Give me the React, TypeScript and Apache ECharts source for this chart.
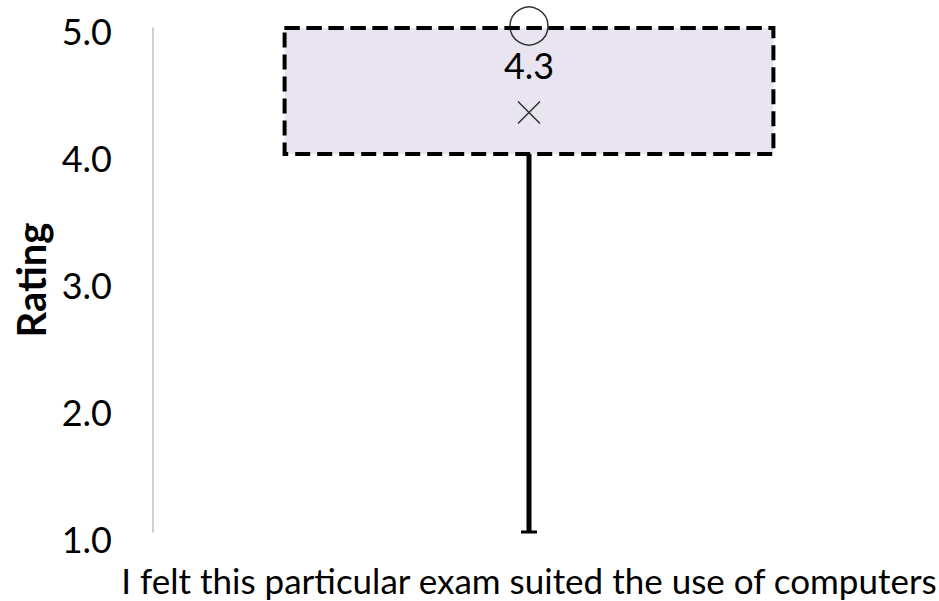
import React, { useEffect, useRef } from "react";
import * as echarts from "echarts";

const categories = ["I felt this particular exam suited the use of computers"];
const minValues = [1.0];
const q1Values = [4.0];
const medianValues = [5.0];
const q3Values = [5.0];
const maxValues = [5.0];
const meanValues = [4.33];
const pointValues = [5.0];
const yTicks = [1, 2, 3, 4, 5];

const FONT = "Lato";

export default function App() {
  const ref = useRef<HTMLDivElement>(null);
  useEffect(() => {
    if (!ref.current) return;
    const chart = echarts.init(ref.current, null, { renderer: "svg" });
    const boxData = categories.map((_, i) => [
      i,
      minValues[i],
      q1Values[i],
      medianValues[i],
      q3Values[i],
      maxValues[i],
    ]);
    const tickRich: Record<string, any> = {};
    yTicks.forEach((t) => {
      tickRich["t" + t] = {
        fontFamily: FONT,
        fontSize: 36,
        color: "#000",
        padding: [Math.round(5 + (5 - t) * 2), 0, 0, 0],
      };
    });
    chart.setOption({
      animation: false,
      backgroundColor: "#ffffff",
      grid: {
        left: 153,
        right: 34,
        top: 28,
        bottom: 69,
        containLabel: false,
        outerBoundsMode: "none",
      },
      xAxis: {
        type: "category",
        data: categories,
        axisLine: { show: false },
        axisTick: { show: false },
        axisLabel: {
          fontFamily: FONT,
          fontSize: 35,
          color: "#000",
          margin: 30,
        },
      },
      yAxis: {
        type: "value",
        min: yTicks[0],
        max: yTicks[yTicks.length - 1],
        interval: 1,
        name: "Rating",
        nameLocation: "middle",
        nameRotate: 90,
        nameGap: 99,
        nameTextStyle: {
          fontFamily: FONT,
          fontSize: 40,
          fontWeight: "bold",
          color: "#000",
        },
        axisLine: { show: true, lineStyle: { color: "#BFBFBF", width: 1.5 } },
        axisTick: { show: false },
        splitLine: { show: false },
        axisLabel: {
          fontFamily: FONT,
          fontSize: 36,
          color: "#000",
          margin: 41,
          formatter: (v: number) => "{t" + Math.round(v) + "|" + v.toFixed(1) + "}",
          rich: tickRich,
        },
      },
      series: [
        {
          type: "custom",
          data: boxData,
          encode: { x: 0, y: [1, 2, 3, 4, 5] },
          renderItem: (params: any, api: any) => {
            const x = api.value(0);
            const pLow = api.coord([x, api.value(1)]);
            const pQ1 = api.coord([x, api.value(2)]);
            const pMed = api.coord([x, api.value(3)]);
            const pQ3 = api.coord([x, api.value(4)]);
            const pHigh = api.coord([x, api.value(5)]);
            const bandW = api.size([1, 0])[0];
            const boxW = bandW * 0.65;
            const cx = pQ1[0];
            return {
              type: "group",
              children: [
                {
                  type: "line",
                  shape: { x1: cx, y1: pQ1[1], x2: cx, y2: pLow[1] },
                  style: { stroke: "#000", lineWidth: 5 },
                },
                {
                  type: "line",
                  shape: { x1: cx - 8, y1: pLow[1], x2: cx + 8, y2: pLow[1] },
                  style: { stroke: "#000", lineWidth: 3 },
                },
                {
                  type: "line",
                  shape: { x1: cx, y1: pQ3[1], x2: cx, y2: pHigh[1] },
                  style: { stroke: "#000", lineWidth: 5 },
                },
                {
                  type: "rect",
                  shape: {
                    x: cx - boxW / 2,
                    y: pQ3[1],
                    width: boxW,
                    height: pQ1[1] - pQ3[1],
                  },
                  style: {
                    fill: "#E9E5F0",
                    stroke: "#000",
                    lineWidth: 4,
                    lineDash: [15, 7],
                  },
                },
                {
                  type: "line",
                  shape: {
                    x1: cx - boxW / 2,
                    y1: pMed[1],
                    x2: cx + boxW / 2,
                    y2: pMed[1],
                  },
                  style: { stroke: "#000", lineWidth: 4, lineDash: [15, 7] },
                },
              ],
            };
          },
          z: 1,
        },
        {
          type: "scatter",
          data: pointValues.map((v, i) => [categories[i], v]),
          symbol: "circle",
          symbolSize: 38,
          symbolOffset: [0, -2],
          itemStyle: { color: "transparent", borderColor: "#000", borderWidth: 1.5 },
          z: 3,
        },
        {
          type: "scatter",
          data: meanValues.map((v, i) => [categories[i], v]),
          symbol: "path://M0,0L10,10M10,0L0,10",
          symbolSize: 22,
          itemStyle: { color: "transparent", borderColor: "#000", borderWidth: 1.5 },
          label: {
            show: true,
            position: "top",
            distance: 18,
            fontFamily: FONT,
            fontSize: 36,
            color: "#000",
            opacity: 1,
            textBorderWidth: 0,
            formatter: (p: any) => Number(p.value[1]).toFixed(1),
          },
          z: 3,
        },
      ],
    });
    return () => chart.dispose();
  }, []);
  return (
    <div
      ref={ref}
      style={{ position: "fixed", left: 0, top: 0, width: 939, height: 601 }}
    />
  );
}
